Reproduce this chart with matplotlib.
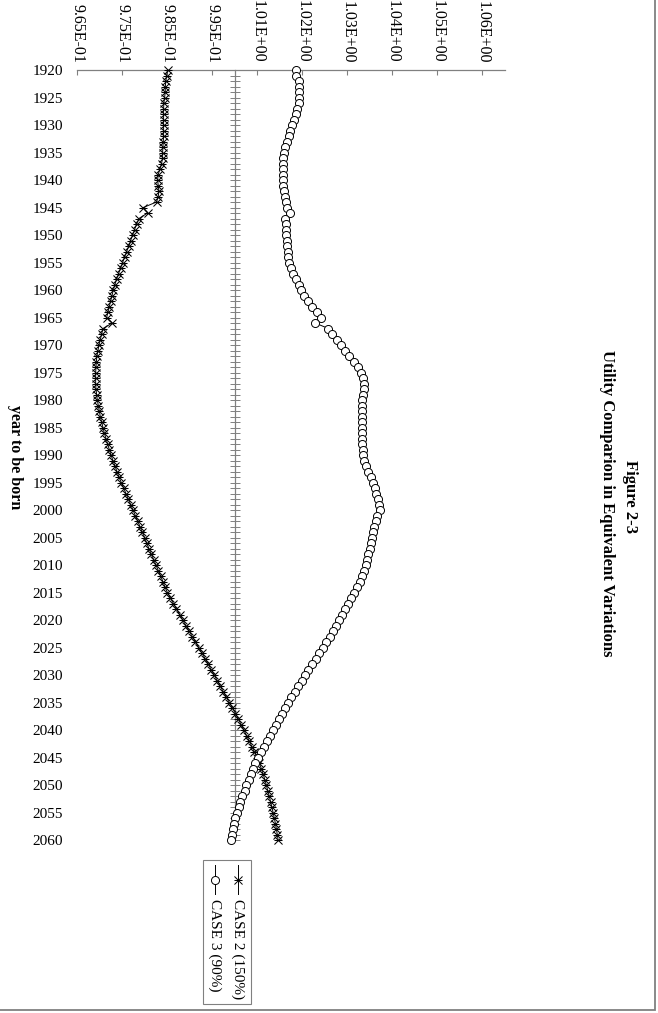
import matplotlib
matplotlib.use("Agg")
import matplotlib.pyplot as plt
from matplotlib.lines import Line2D
from matplotlib.patches import Rectangle
from matplotlib.path import Path

# ---------------- data ----------------
years = list(range(1920, 2061))

case2 = [
    0.98510, 0.98488, 0.98473, 0.98459, 0.98459, 0.98444, 0.98429, 0.98422, 0.98422, 0.98422,  # 1920s
    0.98422, 0.98422, 0.98422, 0.98414, 0.98407, 0.98400, 0.98400, 0.98377, 0.98340, 0.98303,  # 1930s
    0.98289, 0.98303, 0.98318, 0.98303, 0.98266, 0.97971, 0.98067, 0.97875, 0.97823, 0.97779,  # 1940s
    0.97734, 0.97690, 0.97653, 0.97601, 0.97557, 0.97513, 0.97468, 0.97424, 0.97379, 0.97343,  # 1950s
    0.97306, 0.97276, 0.97247, 0.97217, 0.97187, 0.97158, 0.97283, 0.97077, 0.97047, 0.97017,  # 1960s
    0.96988, 0.96966, 0.96943, 0.96929, 0.96921, 0.96914, 0.96914, 0.96914, 0.96921, 0.96936,  # 1970s
    0.96951, 0.96973, 0.96995, 0.97017, 0.97047, 0.97077, 0.97106, 0.97143, 0.97180, 0.97217,  # 1980s
    0.97254, 0.97298, 0.97343, 0.97387, 0.97431, 0.97483, 0.97535, 0.97586, 0.97638, 0.97690,  # 1990s
    0.97742, 0.97793, 0.97845, 0.97897, 0.97949, 0.98000, 0.98045, 0.98096, 0.98148, 0.98200,  # 2000s
    0.98252, 0.98303, 0.98355, 0.98407, 0.98451, 0.98507, 0.98573, 0.98640, 0.98708, 0.98777,  # 2010s
    0.98846, 0.98917, 0.98988, 0.99059, 0.99130, 0.99201, 0.99272, 0.99343, 0.99411, 0.99478,  # 2020s
    0.99544, 0.99611, 0.99677, 0.99744, 0.99813, 0.99881, 0.99950, 1.00017, 1.00081, 1.00143,  # 2030s
    1.00203, 1.00263, 1.00323, 1.00380, 1.00438, 1.00496, 1.00547, 1.00591, 1.00631, 1.00669,  # 2040s
    1.00702, 1.00735, 1.00766, 1.00797, 1.00826, 1.00853, 1.00879, 1.00904, 1.00926, 1.00946,  # 2050s
    1.00963,                                                                                    # 2060
]

case3 = [
    1.01356, 1.01370, 1.01422, 1.01422, 1.01422, 1.01430, 1.01422, 1.01385, 1.01356, 1.01326,  # 1920s
    1.01275, 1.01238, 1.01201, 1.01164, 1.01127, 1.01097, 1.01083, 1.01075, 1.01075, 1.01075,  # 1930s
    1.01075, 1.01083, 1.01105, 1.01119, 1.01134, 1.01156, 1.01238, 1.01127, 1.01134, 1.01142,  # 1940s
    1.01149, 1.01156, 1.01164, 1.01178, 1.01193, 1.01208, 1.01252, 1.01297, 1.01363, 1.01422,  # 1950s
    1.01474, 1.01541, 1.01629, 1.01725, 1.01829, 1.01917, 1.01785, 1.02080, 1.02169, 1.02265,  # 1960s
    1.02354, 1.02450, 1.02546, 1.02642, 1.02731, 1.02805, 1.02849, 1.02864, 1.02864, 1.02849,  # 1970s
    1.02834, 1.02827, 1.02819, 1.02819, 1.02819, 1.02819, 1.02827, 1.02827, 1.02834, 1.02842,  # 1980s
    1.02849, 1.02878, 1.02923, 1.02967, 1.03019, 1.03071, 1.03107, 1.03144, 1.03174, 1.03204,  # 1990s
    1.03233, 1.03167, 1.03130, 1.03100, 1.03078, 1.03049, 1.03019, 1.02997, 1.02967, 1.02938,  # 2000s
    1.02908, 1.02871, 1.02834, 1.02782, 1.02723, 1.02657, 1.02590, 1.02524, 1.02457, 1.02391,  # 2010s
    1.02324, 1.02258, 1.02184, 1.02110, 1.02036, 1.01962, 1.01881, 1.01799, 1.01718, 1.01637,  # 2020s
    1.01563, 1.01489, 1.01415, 1.01334, 1.01260, 1.01186, 1.01112, 1.01046, 1.00979, 1.00913,  # 2030s
    1.00846, 1.00780, 1.00713, 1.00647, 1.00580, 1.00521, 1.00462, 1.00410, 1.00358, 1.00307,  # 2040s
    1.00262, 1.00218, 1.00173, 1.00129, 1.00092, 1.00055, 1.00018, 0.99989, 0.99966, 0.99944,  # 2050s
    0.99929,                                                                                    # 2060
]

value_ticks = [0.965, 0.975, 0.985, 0.995, 1.005, 1.015, 1.025, 1.035, 1.045, 1.055]
value_tick_labels = ["9.65E-01", "9.75E-01", "9.85E-01", "9.95E-01", "1.01E+00",
                     "1.02E+00", "1.03E+00", "1.04E+00", "1.05E+00", "1.06E+00"]
year_labels = list(range(1920, 2061, 5))
series_names = ["CASE 2 (150%)", "CASE 3 (90%)"]
title_lines = ["Figure 2-3", "Utility Comparion in Equivalent Variations"]
year_axis_title = "year to be born"

# ---------------- style ----------------
plt.rcParams['font.family'] = ['Liberation Serif', 'DejaVu Serif']
GRAY = '#808080'
W, H = 658, 1013

def fx(px):
    return px / W

def fy(py):
    return 1 - py / H

fig = plt.figure(figsize=(W / 100, H / 100), dpi=100)

rect = [fx(77), fy(840), (505 - 77) / W, (840 - 70) / H]
ax = fig.add_axes(rect)
ax.set_xlim(0.965, 1.06)
ax.set_ylim(2060, 1920)

for s in ['right', 'bottom']:
    ax.spines[s].set_visible(False)
ax.spines['top'].set_color(GRAY)
ax.spines['top'].set_linewidth(0.9)
ax.spines['left'].set_position(('data', 1.0))
ax.spines['left'].set_color(GRAY)
ax.spines['left'].set_linewidth(0.9)

ax.xaxis.tick_top()
ax.set_xticks(value_ticks)
ax.set_xticklabels(value_tick_labels, rotation=-90)
ax.tick_params(axis='x', direction='in', length=3.8, width=0.8, color=GRAY,
               pad=5, labelsize=11.5, top=True, bottom=False,
               labeltop=True, labelbottom=False)

ax.set_yticks(years)
ax.tick_params(axis='y', direction='inout', length=7, width=0.7, color=GRAY,
               labelleft=False, left=True, right=False)

# asterisk-like marker (x with a bar)
ast = Path([(-1, -1), (1, 1), (-1, 1), (1, -1), (-1, 0), (1, 0)],
           [Path.MOVETO, Path.LINETO, Path.MOVETO, Path.LINETO, Path.MOVETO, Path.LINETO])

ax.plot(case2, years, color='black', lw=0.7, marker=ast, ms=5.8,
        mfc='none', mec='black', mew=0.75, zorder=3, clip_on=False)
ax.plot(case3, years, color='black', lw=0.7, marker='o', ms=5.8,
        mfc='white', mec='black', mew=0.7, zorder=4, clip_on=False)

# year labels on the far left
lab = fig.add_axes(rect)
lab.set_ylim(2060, 1920)
lab.set_xlim(0, 1)
lab.patch.set_visible(False)
for s in lab.spines.values():
    s.set_visible(False)
lab.set_xticks([])
lab.set_yticks(year_labels)
lab.set_yticklabels([str(y) for y in year_labels])
lab.tick_params(axis='y', length=0, pad=10, labelsize=11)

# titles
fig.text(fx(630), fy(497), title_lines[0], rotation=-90, ha='center', va='center',
         fontsize=12, fontweight='bold')
fig.text(fx(607), fy(503), title_lines[1], rotation=-90, ha='center', va='center',
         fontsize=12, fontweight='bold')
fig.text(fx(15), fy(457), year_axis_title, rotation=-90, ha='center', va='center',
         fontsize=11.5, fontweight='bold')

# legend (drawn rotated like the reference)
fig.patches.append(Rectangle((fx(203), fy(1004)), (251 - 203) / W, (1004 - 860) / H,
                             transform=fig.transFigure, facecolor='white',
                             edgecolor=GRAY, lw=0.8, zorder=5))
for xpos, name, mk, fc in [(238, series_names[0], ast, 'none'),
                           (215, series_names[1], 'o', 'white')]:
    fig.lines.append(Line2D([fx(xpos), fx(xpos)], [fy(865), fy(894)],
                            transform=fig.transFigure, color='black', lw=0.7, zorder=6))
    fig.lines.append(Line2D([fx(xpos)], [fy(879.5)], transform=fig.transFigure,
                            marker=mk, ms=5.8, mfc=fc, mec='black', mew=0.7,
                            ls='none', zorder=7))
    fig.text(fx(xpos), fy(899), name, rotation=-90, rotation_mode='anchor',
             ha='left', va='center', fontsize=11, zorder=8)

# outer chart frame
fig.patches.append(Rectangle((-0.05, fy(1010)), fx(655) + 0.05, 1.1,
                             transform=fig.transFigure, facecolor='none',
                             edgecolor=GRAY, lw=1.3, zorder=1))

fig.savefig("out.png", dpi=100)
